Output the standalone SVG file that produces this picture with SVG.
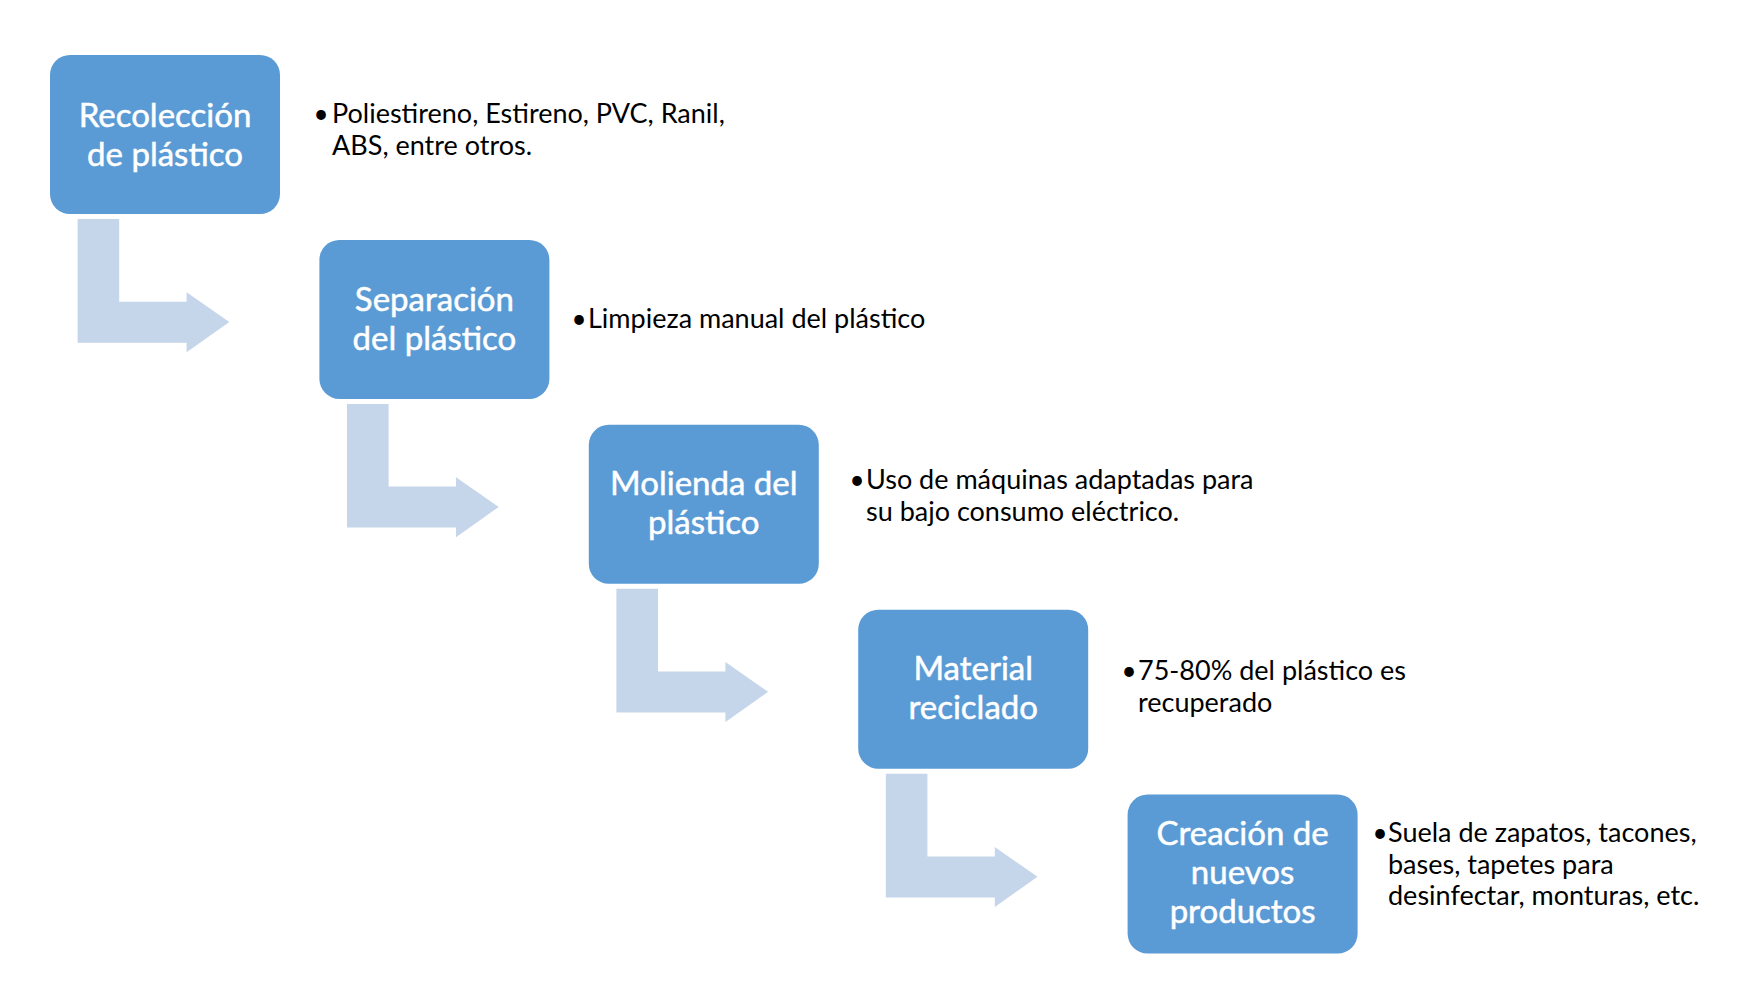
<svg xmlns="http://www.w3.org/2000/svg" width="1746" height="993" viewBox="0 0 1746 993">
<style>
.box{fill:#5B9BD5;}
.arr{fill:#C5D5EA;}
.bt{font-family:Lato,"Liberation Sans",sans-serif;font-size:33px;fill:#FFFFFF;stroke:#FFFFFF;stroke-width:0.5;text-anchor:middle;}
.t{font-family:Lato,"Liberation Sans",sans-serif;font-size:27px;fill:#000000;}
.b{font-family:Lato,"Liberation Sans",sans-serif;font-size:26px;fill:#000000;text-anchor:middle;}
</style>
<defs>
<path id="bend" d="M77.6 219 H119.2 V301.7 H186.6 V292.3 L229.3 322 L186.6 352.3 V342.7 H77.6 Z"/>
</defs>
<rect width="1746" height="993" fill="#FFFFFF"/>
<g id="connectors">
<use href="#bend" class="arr"/>
<use href="#bend" class="arr" transform="translate(269.4 184.9)"/>
<use href="#bend" class="arr" transform="translate(538.8 369.8)"/>
<use href="#bend" class="arr" transform="translate(808.2 554.7)"/>
</g>
<g id="node1">
<rect class="box" x="50" y="55" width="230" height="159" rx="20"/>
<text class="bt" x="165" y="126.5">Recolección</text>
<text class="bt" x="165" y="165.5">de plástico</text>
</g>
<g id="node2">
<rect class="box" x="319.4" y="239.9" width="230" height="159" rx="20"/>
<text class="bt" x="434.4" y="310.5">Separación</text>
<text class="bt" x="434.4" y="349.5">del plástico</text>
</g>
<g id="node3">
<rect class="box" x="588.8" y="424.8" width="230" height="159" rx="20"/>
<text class="bt" x="703.8" y="495">Molienda del</text>
<text class="bt" x="703.8" y="534">plástico</text>
</g>
<g id="node4">
<rect class="box" x="858.2" y="609.7" width="230" height="159" rx="20"/>
<text class="bt" x="973.2" y="680">Material</text>
<text class="bt" x="973.2" y="719">reciclado</text>
</g>
<g id="node5">
<rect class="box" x="1127.6" y="794.6" width="230" height="159" rx="20"/>
<text class="bt" x="1242.6" y="845">Creación de</text>
<text class="bt" x="1242.6" y="884">nuevos</text>
<text class="bt" x="1242.6" y="923">productos</text>
</g>
<g id="note1">
<text class="b" x="321" y="122.5">•</text>
<text class="t" x="332" y="122.5">Poliestireno, Estireno, PVC, Ranil,</text>
<text class="t" x="332" y="154.5">ABS, entre otros.</text>
</g>
<g id="note2">
<text class="b" x="579" y="327.5">•</text>
<text class="t" x="588" y="327.5">Limpieza manual del plástico</text>
</g>
<g id="note3">
<text class="b" x="857" y="489">•</text>
<text class="t" x="866" y="489">Uso de máquinas adaptadas para</text>
<text class="t" x="866" y="521">su bajo consumo eléctrico.</text>
</g>
<g id="note4">
<text class="b" x="1129" y="680">•</text>
<text class="t" x="1138" y="680">75-80% del plástico es</text>
<text class="t" x="1138" y="712">recuperado</text>
</g>
<g id="note5">
<text class="b" x="1380" y="842">•</text>
<text class="t" x="1388" y="842">Suela de zapatos, tacones,</text>
<text class="t" x="1388" y="873.5">bases, tapetes para</text>
<text class="t" x="1388" y="905">desinfectar, monturas, etc.</text>
</g>
</svg>
